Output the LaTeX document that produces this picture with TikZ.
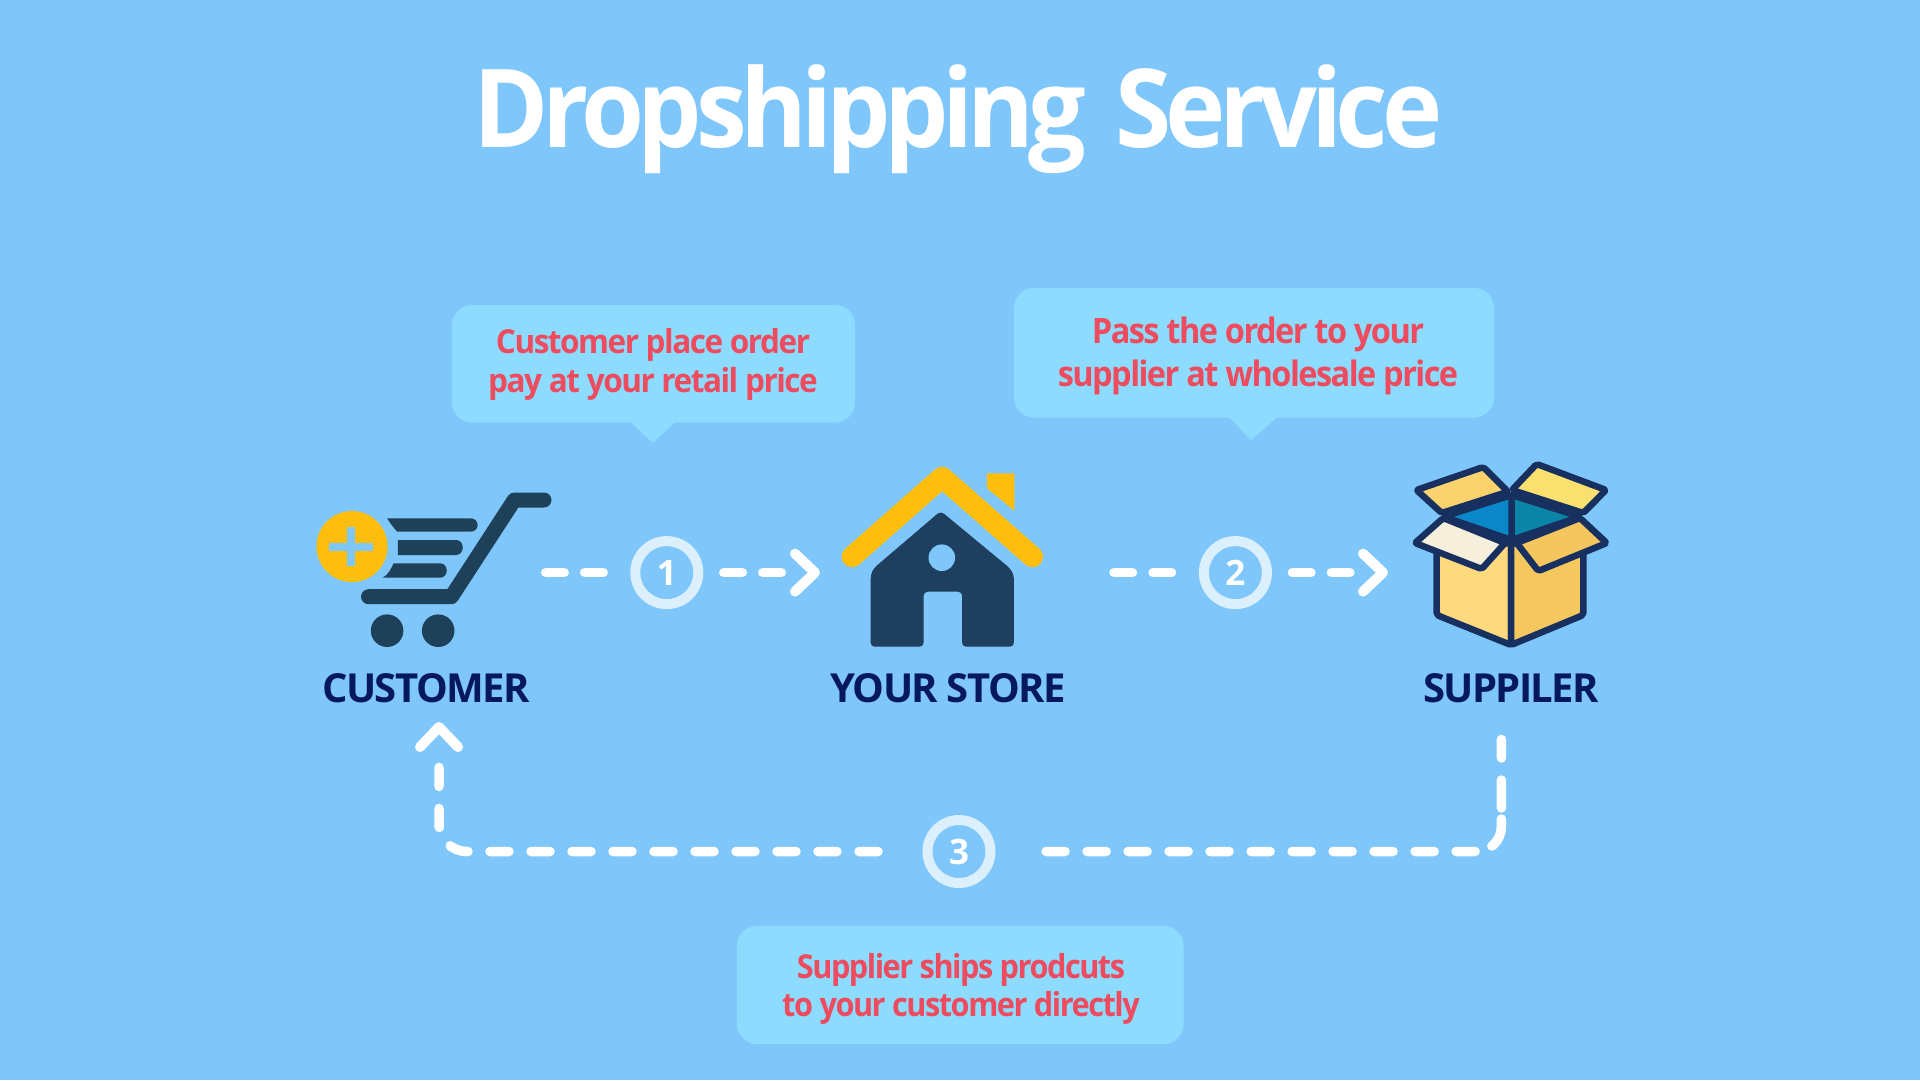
\documentclass[tikz,border=0pt]{standalone}
\usepackage{fontspec}
\usetikzlibrary{arrows.meta}
\setmainfont{Open Sans}[BoldFont={Open Sans Bold}]
\newfontfamily\titlefont{Open Sans Bold}[FakeStretch=0.935,LetterSpace=-5.7]
\newfontfamily\labelfont{Open Sans Bold}[LetterSpace=-4]
\newfontfamily\notefonta{Open Sans Bold}[FakeStretch=0.955,LetterSpace=-4.5]
\newfontfamily\notefontb{Open Sans Bold}[FakeStretch=0.93,LetterSpace=-4.5]
\definecolor{bg}{HTML}{7FC7FB}
\definecolor{bub}{HTML}{8DDCFF}
\definecolor{redtxt}{HTML}{EE4B5E}
\definecolor{navy}{HTML}{07195E}
\definecolor{cartc}{HTML}{1E4159}
\definecolor{housec}{HTML}{1E3F5E}
\definecolor{gold}{HTML}{FFBE0B}
\definecolor{ringc}{HTML}{DCEFFD}
\definecolor{boxline}{HTML}{17305F}
\definecolor{bluel}{RGB}{10,135,200}
\definecolor{bluer}{RGB}{10,133,168}
\definecolor{flaptl}{RGB}{251,211,110}
\definecolor{flaptr}{RGB}{250,224,110}
\definecolor{sidel}{RGB}{255,217,126}
\definecolor{sider}{RGB}{245,200,95}
\definecolor{flapfl}{RGB}{245,239,220}
\definecolor{flapfr}{RGB}{245,197,94}
\tikzset{
  bubblefill/.style={fill=bub,rounded corners=20pt},
  tail/.style={fill=bub,line join=round},
  note/.style={inner sep=0pt,align=center,text=redtxt},
  iconlabel/.style={text=navy,inner sep=0pt,font=\labelfont\fontsize{40}{44}\selectfont},
  ringnode/.style={circle,draw=ringc,line width=10pt,minimum size=63pt,inner sep=0pt,text=white,font=\labelfont\fontsize{35}{40}\selectfont},
  flow/.style={draw=white,line width=9.5pt,line cap=round},
  head/.style={-{Straight Barb[length=20pt,width=38pt,line width=10pt,round]}},
  flap/.style={draw=boxline,line width=6.5pt,line join=round,rounded corners=2pt},
}
\begin{document}
\begin{tikzpicture}[x=1pt,y=-1pt]
\useasboundingbox (0,0) rectangle (1920,1080);
\fill[bg] (0,0) rectangle (1920,1080);
% title
\node[text=white,inner sep=0pt,font=\titlefont\fontsize{109}{120}\selectfont] (title) at (958,119) {Dropshipping\hspace{9pt} Service};
% bubbles
\fill[tail] (628,420) -- (653,443) -- (677,420) -- cycle;
\fill[bubblefill] (452,305) rectangle (855,422.5);
\node[note,font=\notefonta\fontsize{33}{39}\selectfont] (note1) at (653,364) {Customer place order\\pay at your retail price};
\fill[tail] (1227,415) -- (1251,440) -- (1280,415) -- cycle;
\fill[bubblefill] (1014,288) rectangle (1494,417.5);
\node[note,font=\notefontb\fontsize{35}{43}\selectfont] (note2) at (1258,356) {Pass the order to your\\supplier at wholesale price};
\fill[bubblefill] (737,926) rectangle (1183.5,1044);
\node[note,font=\notefontb\fontsize{33}{38}\selectfont] (note3) at (961,989) {Supplier ships prodcuts\\to your customer directly};
% cart
\fill[gold] (352,546.5) circle (35.5);
\draw[bg,line width=8pt] (328.6,546.5) -- (373,546.5) (351,527) -- (351,566);
\draw[cartc,line width=15pt,line cap=round,line join=round] (544,500) -- (514.3,500) -- (451.4,596.7) -- (368.5,596.7);
\fill[cartc] (387.1,518.3) -- (470.4,518.3) .. controls (480,518.3) and (480,531.7) .. (470.4,531.7) -- (397.1,531.7) .. controls (393,527) and (390,523) .. (387.1,518.3) -- cycle;
\fill[cartc] (397.9,540) -- (456,540) .. controls (465,540) and (465,555) .. (456,555) -- (397.9,555) -- cycle;
\fill[cartc] (382.9,577.5) .. controls (388,575) and (391,569) .. (393.6,563.3) -- (440,563.3) .. controls (449,563.3) and (449,577.7) .. (440,577.7) -- cycle;
\fill[cartc] (387.1,630.7) circle (16.3) (438.2,630.7) circle (16.3);
% house
\draw[gold,line width=21pt,line cap=round,line join=round] (852.1,556.7) -- (942.1,477.3) -- (1032.5,556.7);
\fill[gold] (987.1,473.3) -- (1014.3,473.3) -- (1014.3,510.7) -- (987.1,488.3) -- cycle;
\fill[housec,rounded corners=4pt] (940.7,511) -- (873.6,568.3) -- (870.7,575) -- (870.7,646.7) -- (923.6,646.7) -- (923.6,591.7) -- (962.1,591.7) -- (962.1,646.7) -- (1013.9,646.7) -- (1013.9,575) -- (1010,568.3) -- cycle;
\fill[bg] (941.8,557.7) circle (13.3);
% box
\fill[bluel] (1443.3,516.7) -- (1511.7,495) -- (1511.7,540) -- cycle;
\fill[bluer] (1511.7,495) -- (1580,516.7) -- (1511.7,540) -- cycle;
\draw[flap] (1443.3,516.7) -- (1511.7,495) -- (1580,516.7) -- (1511.7,540) -- cycle (1511.7,495) -- (1511.7,540);
\draw[flap,fill=flaptl] (1416.5,490) -- (1483.3,467) -- (1508,491.7) -- (1441.7,513) -- cycle;
\draw[flap,fill=flaptr] (1512,490) -- (1536.7,464) -- (1606,490) -- (1583.3,513) -- cycle;
\draw[flap,fill=sidel] (1436.7,550) -- (1511,543) -- (1511,645) -- (1436.7,615) -- cycle;
\draw[flap,fill=sider] (1511,543) -- (1583.3,550) -- (1583.3,615) -- (1511,645) -- cycle;
\draw[flap,fill=flapfl] (1443.3,518) -- (1505,543) -- (1481.7,569) -- (1415,543) -- cycle;
\draw[flap,fill=flapfr] (1580,518) -- (1606.7,543) -- (1538.3,571) -- (1516.7,543) -- cycle;
% labels
\node[iconlabel] (customer) at (426,688) {CUSTOMER};
\node[iconlabel] (store) at (948,688) {YOUR STORE};
\node[iconlabel] (supplier) at (1511,688) {SUPPILER};
% rings
\node[ringnode] (ring1) at (666.8,572.6) {1};
\node[ringnode] (ring2) at (1235.4,572.6) {2};
\node[ringnode] (ring3) at (959,851.5) {3};
% connector ends
\coordinate (cartend) at (545.7,572.6);
\coordinate (storeend) at (820,572.6);
\coordinate (storestart) at (1114,572.6);
\coordinate (boxend) at (1388,572.6);
\coordinate (cornerL) at (439,851.5);
\coordinate (custend) at (439,722);
\coordinate (boxstart) at (1501.4,739.5);
\coordinate (cornerR) at (1501.4,851.5);
% connectors
\draw[flow,dash pattern=on 18.5pt off 20.5pt on 18.5pt off 300pt] (cartend) -- (ring1);
\draw[flow,head,shorten <=20.5pt,dash pattern=on 18.5pt off 20.5pt on 18.5pt off 300pt] (ring1) -- (storeend);
\draw[flow,dash pattern=on 18.5pt off 20.5pt on 18.5pt off 300pt] (storestart) -- (ring2);
\draw[flow,head,shorten <=20.5pt,dash pattern=on 18.5pt off 20.5pt on 18.5pt off 300pt] (ring2) -- (boxend);
\draw[flow,head,rounded corners=28pt,shorten <=44.5pt,dash pattern=on 19pt off 22pt on 19pt off 22pt on 19pt off 22pt on 19pt off 22pt on 19pt off 22pt on 19pt off 22pt on 19pt off 22pt on 19pt off 22pt on 19pt off 22pt on 19pt off 22pt on 19pt off 22pt on 19pt off 22pt on 19pt off 300pt] (ring3) -- (cornerL) -- (custend);
\draw[flow,rounded corners=25pt,dash pattern=on 18.5pt off 22pt on 28pt off 11pt on 30pt off 18pt on 19pt off 22pt on 19pt off 22pt on 19pt off 22pt on 19pt off 22pt on 19pt off 22pt on 19pt off 22pt on 19pt off 22pt on 19pt off 22pt on 19pt off 22pt on 19pt off 22pt on 19pt off 300pt] (boxstart) -- (cornerR) -- (ring3);
\end{tikzpicture}
\end{document}
